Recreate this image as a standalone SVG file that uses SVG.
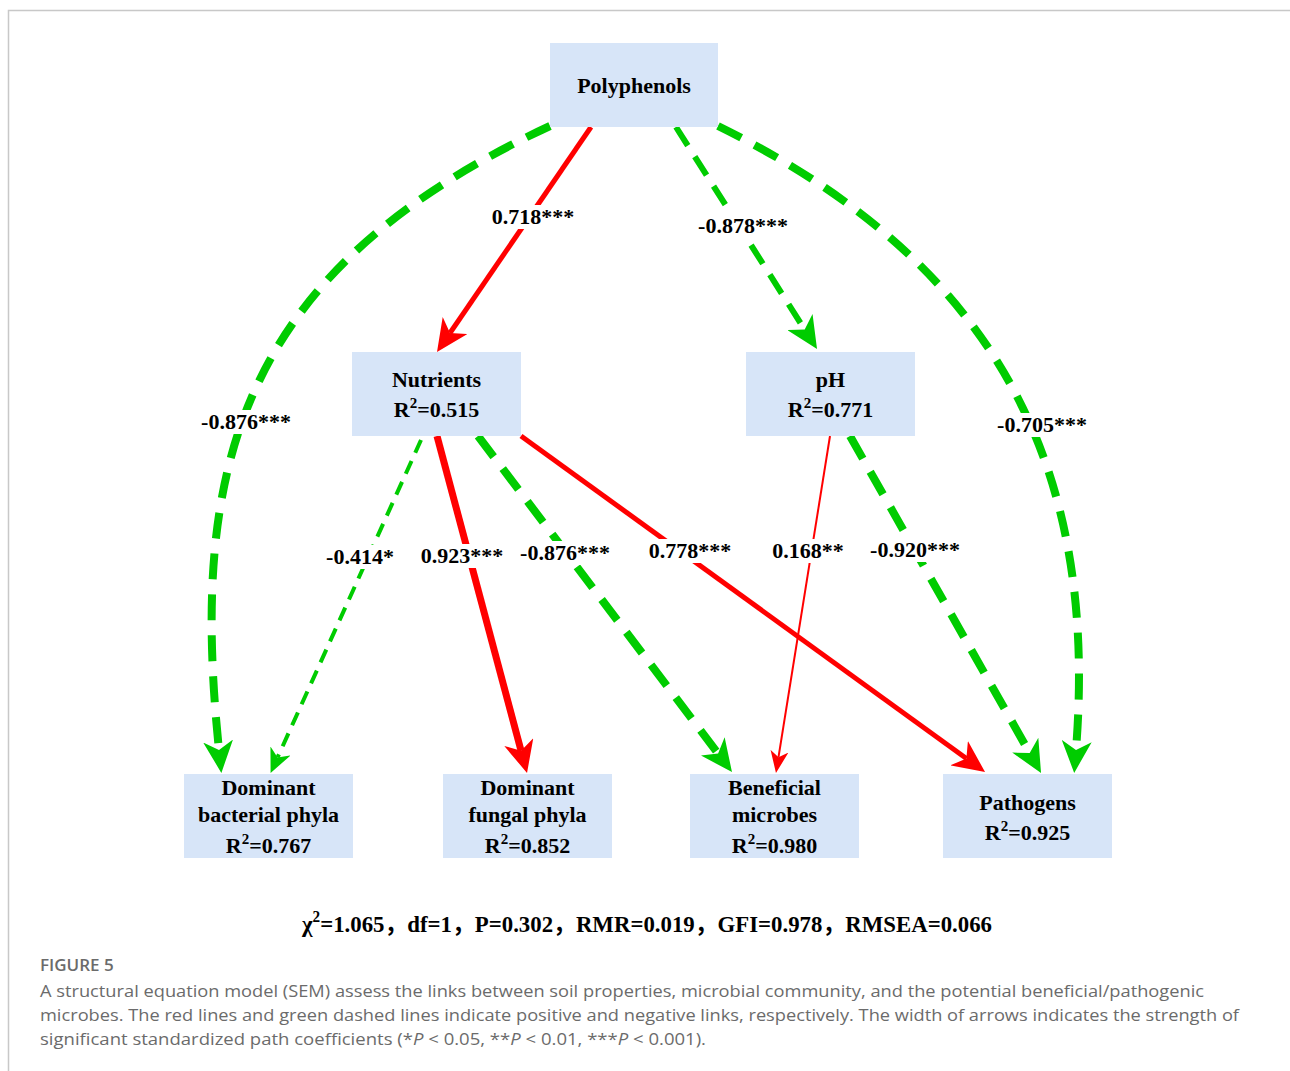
<svg xmlns="http://www.w3.org/2000/svg" width="1290" height="1071" viewBox="0 0 1290 1071">
<style>
.box{fill:#d7e5f8}
.nt{font-family:"Liberation Serif","Times New Roman",serif;font-weight:bold;font-size:22px;fill:#000;text-anchor:middle}
.lb{font-family:"Liberation Serif","Times New Roman",serif;font-weight:bold;font-size:22px;fill:#000;text-anchor:middle}
.sup{font-size:15px}
.lbg{fill:#fff}
.red{fill:none;stroke:#ff0000;stroke-linecap:butt}
.grn{fill:none;stroke:#00cc00;stroke-linecap:butt}
.cap{font-family:"Open Sans","Noto Sans",sans-serif;font-size:17px;fill:#6b6b6b}
</style>
<defs>
<marker id="bigR" viewBox="0 0 32 30" refX="9" refY="15" markerWidth="32" markerHeight="30" markerUnits="userSpaceOnUse" orient="auto"><path d="M0,0 L32,15 L0,30 L9,15 Z" fill="#ff0000"/></marker>
<marker id="bigG" viewBox="0 0 32 30" refX="9" refY="15" markerWidth="32" markerHeight="30" markerUnits="userSpaceOnUse" orient="auto"><path d="M0,0 L32,15 L0,30 L9,15 Z" fill="#00cc00"/></marker>
<marker id="smR" viewBox="0 0 22 18" refX="6" refY="9" markerWidth="22" markerHeight="18" markerUnits="userSpaceOnUse" orient="auto"><path d="M0,0 L22,9 L0,18 L6,9 Z" fill="#ff0000"/></marker>
<marker id="smG" viewBox="0 0 24 22" refX="7" refY="11" markerWidth="24" markerHeight="22" markerUnits="userSpaceOnUse" orient="auto"><path d="M0,0 L24,11 L0,22 L7,11 Z" fill="#00cc00"/></marker>
</defs>
<rect x="0" y="0" width="1290" height="1071" fill="#fff"/>
<path d="M8.5,1071 L8.5,10.5 L1290,10.5" fill="none" stroke="#c8c8c8" stroke-width="1.5"/>

<g id="connectors">
<path id="e1" class="red" stroke-width="5" d="M591,127 L450,333" marker-end="url(#bigR)"/>
<path id="e2" class="grn" stroke-width="6" stroke-dasharray="22 13" d="M676,127 L804.7,329.6" marker-end="url(#bigG)"/>
<path id="e3" class="grn" stroke-width="8" stroke-dasharray="26 15" d="M550,126 C 236,272 190,470 219,750" marker-end="url(#bigG)"/>
<path id="e4" class="grn" stroke-width="8" stroke-dasharray="26 15" d="M718,126 C 1000,265 1098,470 1076,750" marker-end="url(#bigG)"/>
<path id="e5" class="grn" stroke-width="4" stroke-dasharray="14 9" d="M421,440 L277.6,757.4" marker-end="url(#smG)"/>
<path id="e6" class="red" stroke-width="7" d="M437,436 L521.1,750.8" marker-end="url(#bigR)"/>
<path id="e7" class="grn" stroke-width="8" stroke-dasharray="26 15" d="M478,436 L718.1,753.6" marker-end="url(#bigG)"/>
<path id="e8" class="red" stroke-width="5" d="M521,436 L966.4,758.5" marker-end="url(#bigR)"/>
<path id="e9" class="red" stroke-width="2" d="M830,436 L778.5,757.2" marker-end="url(#smR)"/>
<path id="e10" class="grn" stroke-width="8" stroke-dasharray="26 15" d="M850,436 L1029.7,753" marker-end="url(#bigG)"/>
<g id="edge-labels">
<rect class="lbg" x="490" y="205" width="86" height="24"/><text class="lb" x="533" y="224">0.718***</text>
<rect class="lbg" x="698" y="214" width="92" height="24"/><text class="lb" x="743" y="233">-0.878***</text>
<rect class="lbg" x="200" y="410" width="92" height="24"/><text class="lb" x="246" y="429">-0.876***</text>
<rect class="lbg" x="996" y="413" width="92" height="24"/><text class="lb" x="1042" y="432">-0.705***</text>
<rect class="lbg" x="325" y="545" width="70" height="24"/><text class="lb" x="360" y="564">-0.414*</text>
<rect class="lbg" x="420" y="544" width="85" height="24"/><text class="lb" x="462" y="563">0.923***</text>
<rect class="lbg" x="519" y="541" width="92" height="24"/><text class="lb" x="565" y="560">-0.876***</text>
<rect class="lbg" x="648" y="539" width="85" height="24"/><text class="lb" x="690" y="558">0.778***</text>
<rect class="lbg" x="772" y="539" width="74" height="24"/><text class="lb" x="808" y="558">0.168**</text>
<rect class="lbg" x="869" y="538" width="92" height="24"/><text class="lb" x="915" y="557">-0.920***</text>
</g>
</g>

<g id="polyphenols"><rect class="box" x="550" y="43" width="168" height="84"/><text class="nt" x="634" y="93">Polyphenols</text></g>
<g id="nutrients"><rect class="box" x="352" y="352" width="169" height="84"/><text class="nt" x="436.5" y="387">Nutrients</text><text class="nt" x="436.5" y="417">R<tspan class="sup" dy="-9">2</tspan><tspan dy="9">=0.515</tspan></text></g>
<g id="ph"><rect class="box" x="746" y="352" width="169" height="84"/><text class="nt" x="830.5" y="387">pH</text><text class="nt" x="830.5" y="417">R<tspan class="sup" dy="-9">2</tspan><tspan dy="9">=0.771</tspan></text></g>
<g id="bacterial"><rect class="box" x="184" y="774" width="169" height="84"/><text class="nt" x="268.5" y="795">Dominant</text><text class="nt" x="268.5" y="822">bacterial phyla</text><text class="nt" x="268.5" y="853">R<tspan class="sup" dy="-9">2</tspan><tspan dy="9">=0.767</tspan></text></g>
<g id="fungal"><rect class="box" x="443" y="774" width="169" height="84"/><text class="nt" x="527.5" y="795">Dominant</text><text class="nt" x="527.5" y="822">fungal phyla</text><text class="nt" x="527.5" y="853">R<tspan class="sup" dy="-9">2</tspan><tspan dy="9">=0.852</tspan></text></g>
<g id="beneficial"><rect class="box" x="690" y="774" width="169" height="84"/><text class="nt" x="774.5" y="795">Beneficial</text><text class="nt" x="774.5" y="822">microbes</text><text class="nt" x="774.5" y="853">R<tspan class="sup" dy="-9">2</tspan><tspan dy="9">=0.980</tspan></text></g>
<g id="pathogens"><rect class="box" x="943" y="774" width="169" height="84"/><text class="nt" x="1027.5" y="810">Pathogens</text><text class="nt" x="1027.5" y="840">R<tspan class="sup" dy="-9">2</tspan><tspan dy="9">=0.925</tspan></text></g>

<text x="302" y="932" textLength="690" lengthAdjust="spacingAndGlyphs" font-family="'Liberation Serif','Noto Sans CJK SC',serif" font-weight="bold" font-size="24">χ<tspan font-size="16" dy="-10">2</tspan><tspan dy="10">=1.065，df=1，P=0.302，RMR=0.019，GFI=0.978，RMSEA=0.066</tspan></text>

<text class="cap" x="40" y="971" font-size="14" font-weight="600" fill="#5a5a5a">FIGURE 5</text>
<text class="cap" x="40" y="997" textLength="1164" lengthAdjust="spacingAndGlyphs">A structural equation model (SEM) assess the links between soil properties, microbial community, and the potential beneficial/pathogenic</text>
<text class="cap" x="40" y="1021" textLength="1199" lengthAdjust="spacingAndGlyphs">microbes. The red lines and green dashed lines indicate positive and negative links, respectively. The width of arrows indicates the strength of</text>
<text class="cap" x="40" y="1045" textLength="666" lengthAdjust="spacingAndGlyphs">significant standardized path coefficients (*<tspan font-style="italic">P</tspan> &lt; 0.05, **<tspan font-style="italic">P</tspan> &lt; 0.01, ***<tspan font-style="italic">P</tspan> &lt; 0.001).</text>
</svg>
